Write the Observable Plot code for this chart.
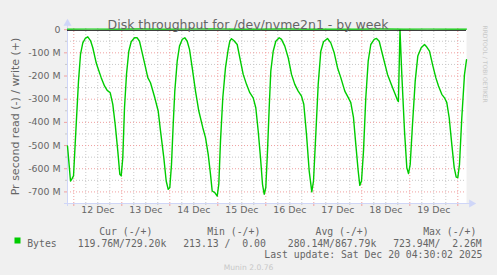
<!DOCTYPE html>
<html><head><meta charset="utf-8">
<script src="https://cdn.jsdelivr.net/npm/d3@7"></script>
<script src="https://cdn.jsdelivr.net/npm/@observablehq/plot@0.6"></script>
<style>
html,body{margin:0;padding:0;background:#F0F0F0;}
#chart svg text{white-space:pre;}
</style></head><body><div id="chart"></div>
<script>
const chartTitle = "Disk throughput for /dev/nvme2n1 - by week";
const yTitle = "Pr second read (-) / write (+)";
const sideText = "RRDTOOL / TOBI OETIKER";
const footerText = "Munin 2.0.76";
const lastUpdate = "Last update: Sat Dec 20 04:30:02 2025";
const seriesName = "Bytes";
const legendHeaders = ["Cur (-/+)", "Min (-/+)", "Avg (-/+)", "Max (-/+)"];
const legendValues = ["119.76M/729.20k", "213.13 /  0.00", "280.14M/867.79k", "723.94M/  2.26M"];
const dayLabels = ["12 Dec","13 Dec","14 Dec","15 Dec","16 Dec","17 Dec","18 Dec","19 Dec"];
const yTicks = [0,-100,-200,-300,-400,-500,-600,-700];
const yMinorTicks = [-50,-150,-250,-350,-450,-550,-650];

// hours since 2025-12-12 00:00 UTC
const readHours = [
-3.15,-2.65,-1.65,-1.0,-0.15,1.2,2.35,3.35,4.5,5.7,
7.0,8.35,9.5,11.2,12.0,13.7,15.35,16.7,18.2,19.5,
20.7,22.0,23.0,23.7,24.5,25.35,26.35,27.5,28.7,30.35,
31.7,32.85,34.0,35.35,37.0,38.35,40.5,42.2,43.35,45.0,
46.2,47.2,48.0,48.85,49.7,50.5,51.7,52.85,54.2,55.5,
56.7,57.85,59.2,60.85,62.5,64.5,65.85,67.2,68.35,69.2,
70.5,71.7,72.5,73.35,74.5,75.85,77.2,78.0,78.85,80.0,
81.7,83.0,84.7,86.35,88.0,89.7,91.0,92.2,93.35,94.35,
95.2,96.0,96.85,97.7,98.5,99.7,101.0,102.7,103.85,105.5,
107.2,108.85,110.5,112.2,113.85,115.0,116.35,117.7,119.0,119.85,
121.0,122.2,123.5,124.85,126.85,128.5,130.2,131.85,133.5,135.5,
136.85,138.5,139.85,141.0,142.2,143.0,143.85,144.85,146.0,147.2,
148.5,150.2,151.35,152.7,154.35,156.85,159.35,160.7,161.85,162.3,
163.1,164.0,165.35,166.5,167.35,168.2,169.35,170.7,172.0,173.7,
175.35,176.5,177.85,179.35,181.0,182.35,184.0,185.35,186.5,187.7,
189.0,190.2,191.2,192.0,192.85,194.0,195.35,196.35];
// read throughput, MB/s (negative = read)
const readValues = [
-502,-552,-653,-645,-631,-409,-222,-107,-57,-38,
-31,-47,-78,-143,-164,-207,-243,-262,-272,-322,
-409,-524,-624,-631,-552,-337,-193,-93,-52,-35,
-35,-50,-93,-143,-207,-229,-294,-351,-437,-552,
-653,-689,-681,-581,-409,-265,-136,-71,-42,-35,
-50,-85,-164,-265,-351,-423,-466,-538,-624,-696,
-703,-718,-667,-480,-294,-164,-85,-50,-39,-47,
-64,-121,-193,-236,-272,-294,-337,-437,-552,-667,
-710,-681,-524,-337,-179,-93,-50,-35,-42,-71,
-121,-193,-236,-265,-287,-322,-452,-610,-700,-653,
-452,-236,-93,-52,-38,-57,-100,-164,-207,-265,
-287,-315,-380,-495,-610,-672,-653,-524,-294,-136,
-64,-42,-38,-50,-107,-193,-250,-279,-305,-310,
-2,-193,-437,-595,-621,-581,-409,-222,-114,-78,
-64,-75,-93,-150,-207,-243,-279,-294,-315,-380,
-495,-595,-636,-638,-581,-380,-193,-130];
// write throughput, MB/s (positive = write)
const writeHours = [-3.15,9,21,33,45,57,69,81,93,105,117,129,141,153,165,177,189,196.35];
const writeValues = [0.7,1.2,0.9,1.5,0.8,1.1,2.26,0.9,0.6,1.3,0.8,1.0,0.7,1.4,0.9,1.2,0.8,0.73];
const legendHeaderX = [98.7, 206.7, 315, 422.7];
const legendValueX = [77.3, 182.7, 287.3, 392.7];

const t0 = Date.UTC(2025, 11, 12);
const toDate = h => new Date(t0 + h * 3600e3);
const read = readHours.map((h, i) => ({t: toDate(h), v: readValues[i]}));
const write = writeHours.map((h, i) => ({t: toDate(h), v: writeValues[i]}));
const xDomain = [toDate(-3.15), toDate(196.35)];
const majorX = d3.utcDay.range(toDate(-3.15), toDate(196.36));
const minorX = d3.utcHour.every(6).range(toDate(-3.15), toDate(196.36)).filter(d => d.getUTCHours() !== 0);
const dayTicks = dayLabels.map((label, i) => ({t: toDate(i * 24 + 12), label}));

const FONT = "#666666", AXIS = "#CFD6F8", MGRID = "#F0A0A0", GRID = "#C8C8C8", GREEN = "#00CC00";
const L = 67, T = 28;
const at = (x, y) => ({frameAnchor: "top-left", dx: x - L, dy: y - T});
const mono = {textAnchor: "start", fontFamily: "DejaVu Sans Mono", fontSize: 9.8, fill: FONT};

const chart = Plot.plot({
  width: 497, height: 275,
  marginLeft: L, marginRight: 31, marginTop: T, marginBottom: 72,
  style: {background: "#F0F0F0", fontFamily: "DejaVu Sans", color: FONT},
  x: {type: "utc", domain: xDomain},
  y: {domain: [-750, 5]},
  marks: [
    Plot.frame({fill: "white", stroke: null}),
    Plot.ruleX(minorX, {stroke: GRID, strokeDasharray: "1,2"}),
    Plot.ruleY(yMinorTicks, {stroke: GRID, strokeDasharray: "1,2"}),
    Plot.ruleX(majorX, {stroke: MGRID, strokeDasharray: "1,2"}),
    Plot.ruleY(yTicks.filter(d => d !== 0), {stroke: MGRID, strokeDasharray: "1,2"}),
    Plot.axisX(minorX, {tickSize: 2, tickFormat: () => "", stroke: GRID, label: null}),
    Plot.axisX(majorX, {tickSize: 3, tickFormat: () => "", stroke: MGRID, label: null}),
    Plot.axisY(yMinorTicks, {tickSize: 2, tickFormat: () => "", stroke: GRID, label: null}),
    Plot.axisY(yTicks, {tickSize: 3, tickFormat: () => "", stroke: MGRID, label: null}),
    Plot.text(yTicks, {y: d => d, frameAnchor: "left", dx: -7, textAnchor: "end",
      text: d => d === 0 ? "0" : `${d} M`, fontSize: 9.4, fill: FONT}),
    Plot.text(dayTicks, {x: "t", frameAnchor: "bottom", dy: 9.7, text: "label", fontSize: 9.4, fill: FONT}),
    Plot.ruleY([-750], {stroke: AXIS, insetLeft: -3, insetRight: -5}),
    Plot.ruleX([xDomain[0]], {stroke: AXIS, insetTop: -5, insetBottom: -3}),
    Plot.dot([0], {frameAnchor: "bottom-right", dx: 5, symbol: "triangle", rotate: 90, r: 3, fill: AXIS, stroke: null}),
    Plot.dot([0], {frameAnchor: "top-left", dy: -5, symbol: "triangle", r: 3, fill: AXIS, stroke: null}),
    Plot.line(read, {x: "t", y: "v", stroke: GREEN, strokeWidth: 1.4}),
    Plot.ruleY([0], {stroke: "black", strokeWidth: 1, dy: 0.6}),
    Plot.line(write, {x: "t", y: "v", stroke: GREEN, strokeWidth: 1.2, dy: -0.4}),
    Plot.text([chartTitle], {...at(247.5, 19.3), textAnchor: "middle", fontSize: 12.5, fill: FONT}),
    Plot.text([yTitle], {...at(10.5, 116), rotate: -90, textAnchor: "middle", fontSize: 11, fill: FONT}),
    Plot.text([sideText], {...at(487, 25), rotate: 90, textAnchor: "start", fontSize: 6, fill: "#C8C8C8"}),
    ...legendHeaders.map((h, i) => Plot.text([h], {...at(legendHeaderX[i], 227.7), ...mono})),
    ...legendValues.map((v, i) => Plot.text([v], {...at(legendValueX[i], 239.7), ...mono})),
    Plot.dot([seriesName], {...at(17, 240), symbol: "square", r: 3.4, fill: GREEN, stroke: null}),
    Plot.text([seriesName], {...at(26.7, 239.7), ...mono}),
    Plot.text([lastUpdate], {...at(482, 251), ...mono, textAnchor: "end"}),
    Plot.text([footerText], {...at(248, 264.3), textAnchor: "middle", fontSize: 7.6, fill: "#C8C8C8"})
  ]
});
document.getElementById("chart").append(chart);
</script></body></html>
